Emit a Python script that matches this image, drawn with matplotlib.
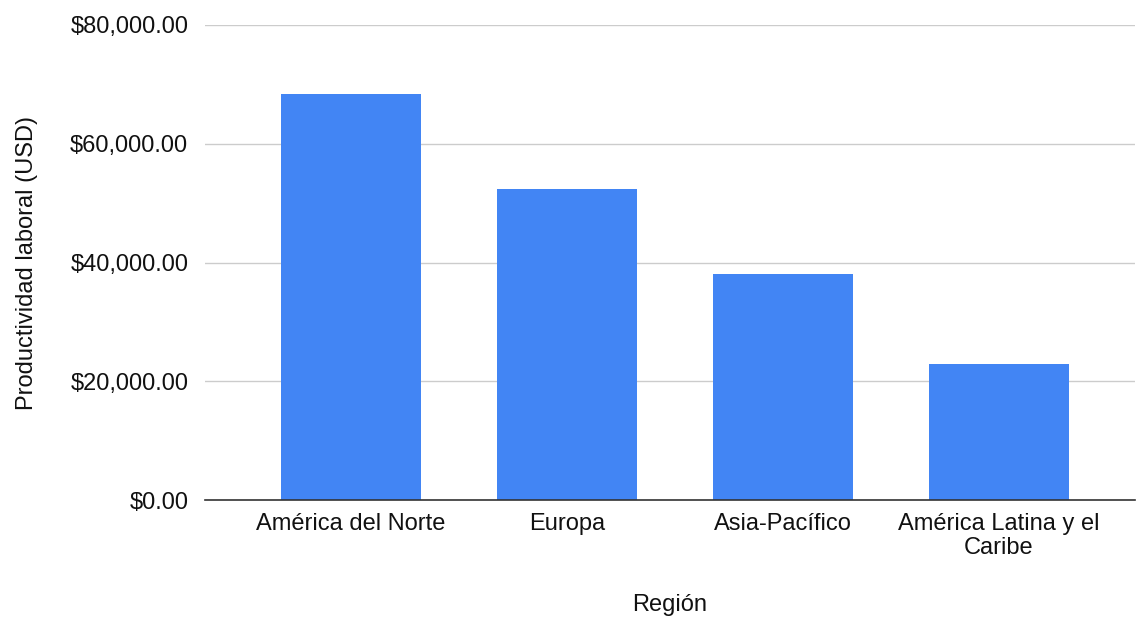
import matplotlib
matplotlib.use("Agg")
import matplotlib.pyplot as plt
from matplotlib.ticker import FuncFormatter

# Chart data
regions = ["América del Norte", "Europa", "Asia-Pacífico", "América Latina y el\nCaribe"]
productivity = [68300, 52300, 38000, 22900]
y_ticks = [0, 20000, 40000, 60000, 80000]

plt.rcParams["font.family"] = ["Liberation Sans", "DejaVu Sans"]

fig = plt.figure(figsize=(11.37, 6.2), dpi=100)
ax = fig.add_axes([0.1803, 0.1935, 0.8177, 0.7662])

x = list(range(len(regions)))
ax.bar(x, productivity, width=0.65, color="#4285F4", zorder=3)

ax.set_xlim(-0.676, 3.63)
ax.set_ylim(0, 80000)
ax.set_yticks(y_ticks)
ax.yaxis.set_major_formatter(FuncFormatter(lambda v, p: f"${v:,.2f}"))
ax.grid(axis="y", color="#cccccc", linewidth=1, zorder=0)

ax.set_xticks(x)
ax.set_xticklabels(regions, fontsize=17, color="#111111", linespacing=1.15)
ax.tick_params(axis="y", labelsize=17, labelcolor="#111111", length=0, pad=12)
ax.tick_params(axis="x", length=0, pad=9)

for side in ["top", "right", "left"]:
    ax.spines[side].set_visible(False)
ax.spines["bottom"].set_color("#333333")
ax.spines["bottom"].set_linewidth(1.2)
ax.spines["bottom"].set_zorder(4)

ax.set_xlabel("Región", fontsize=17, color="#111111", labelpad=25)
ax.set_ylabel("Productividad laboral (USD)", fontsize=17, color="#111111", labelpad=23)

fig.savefig("out.png", dpi=100)
